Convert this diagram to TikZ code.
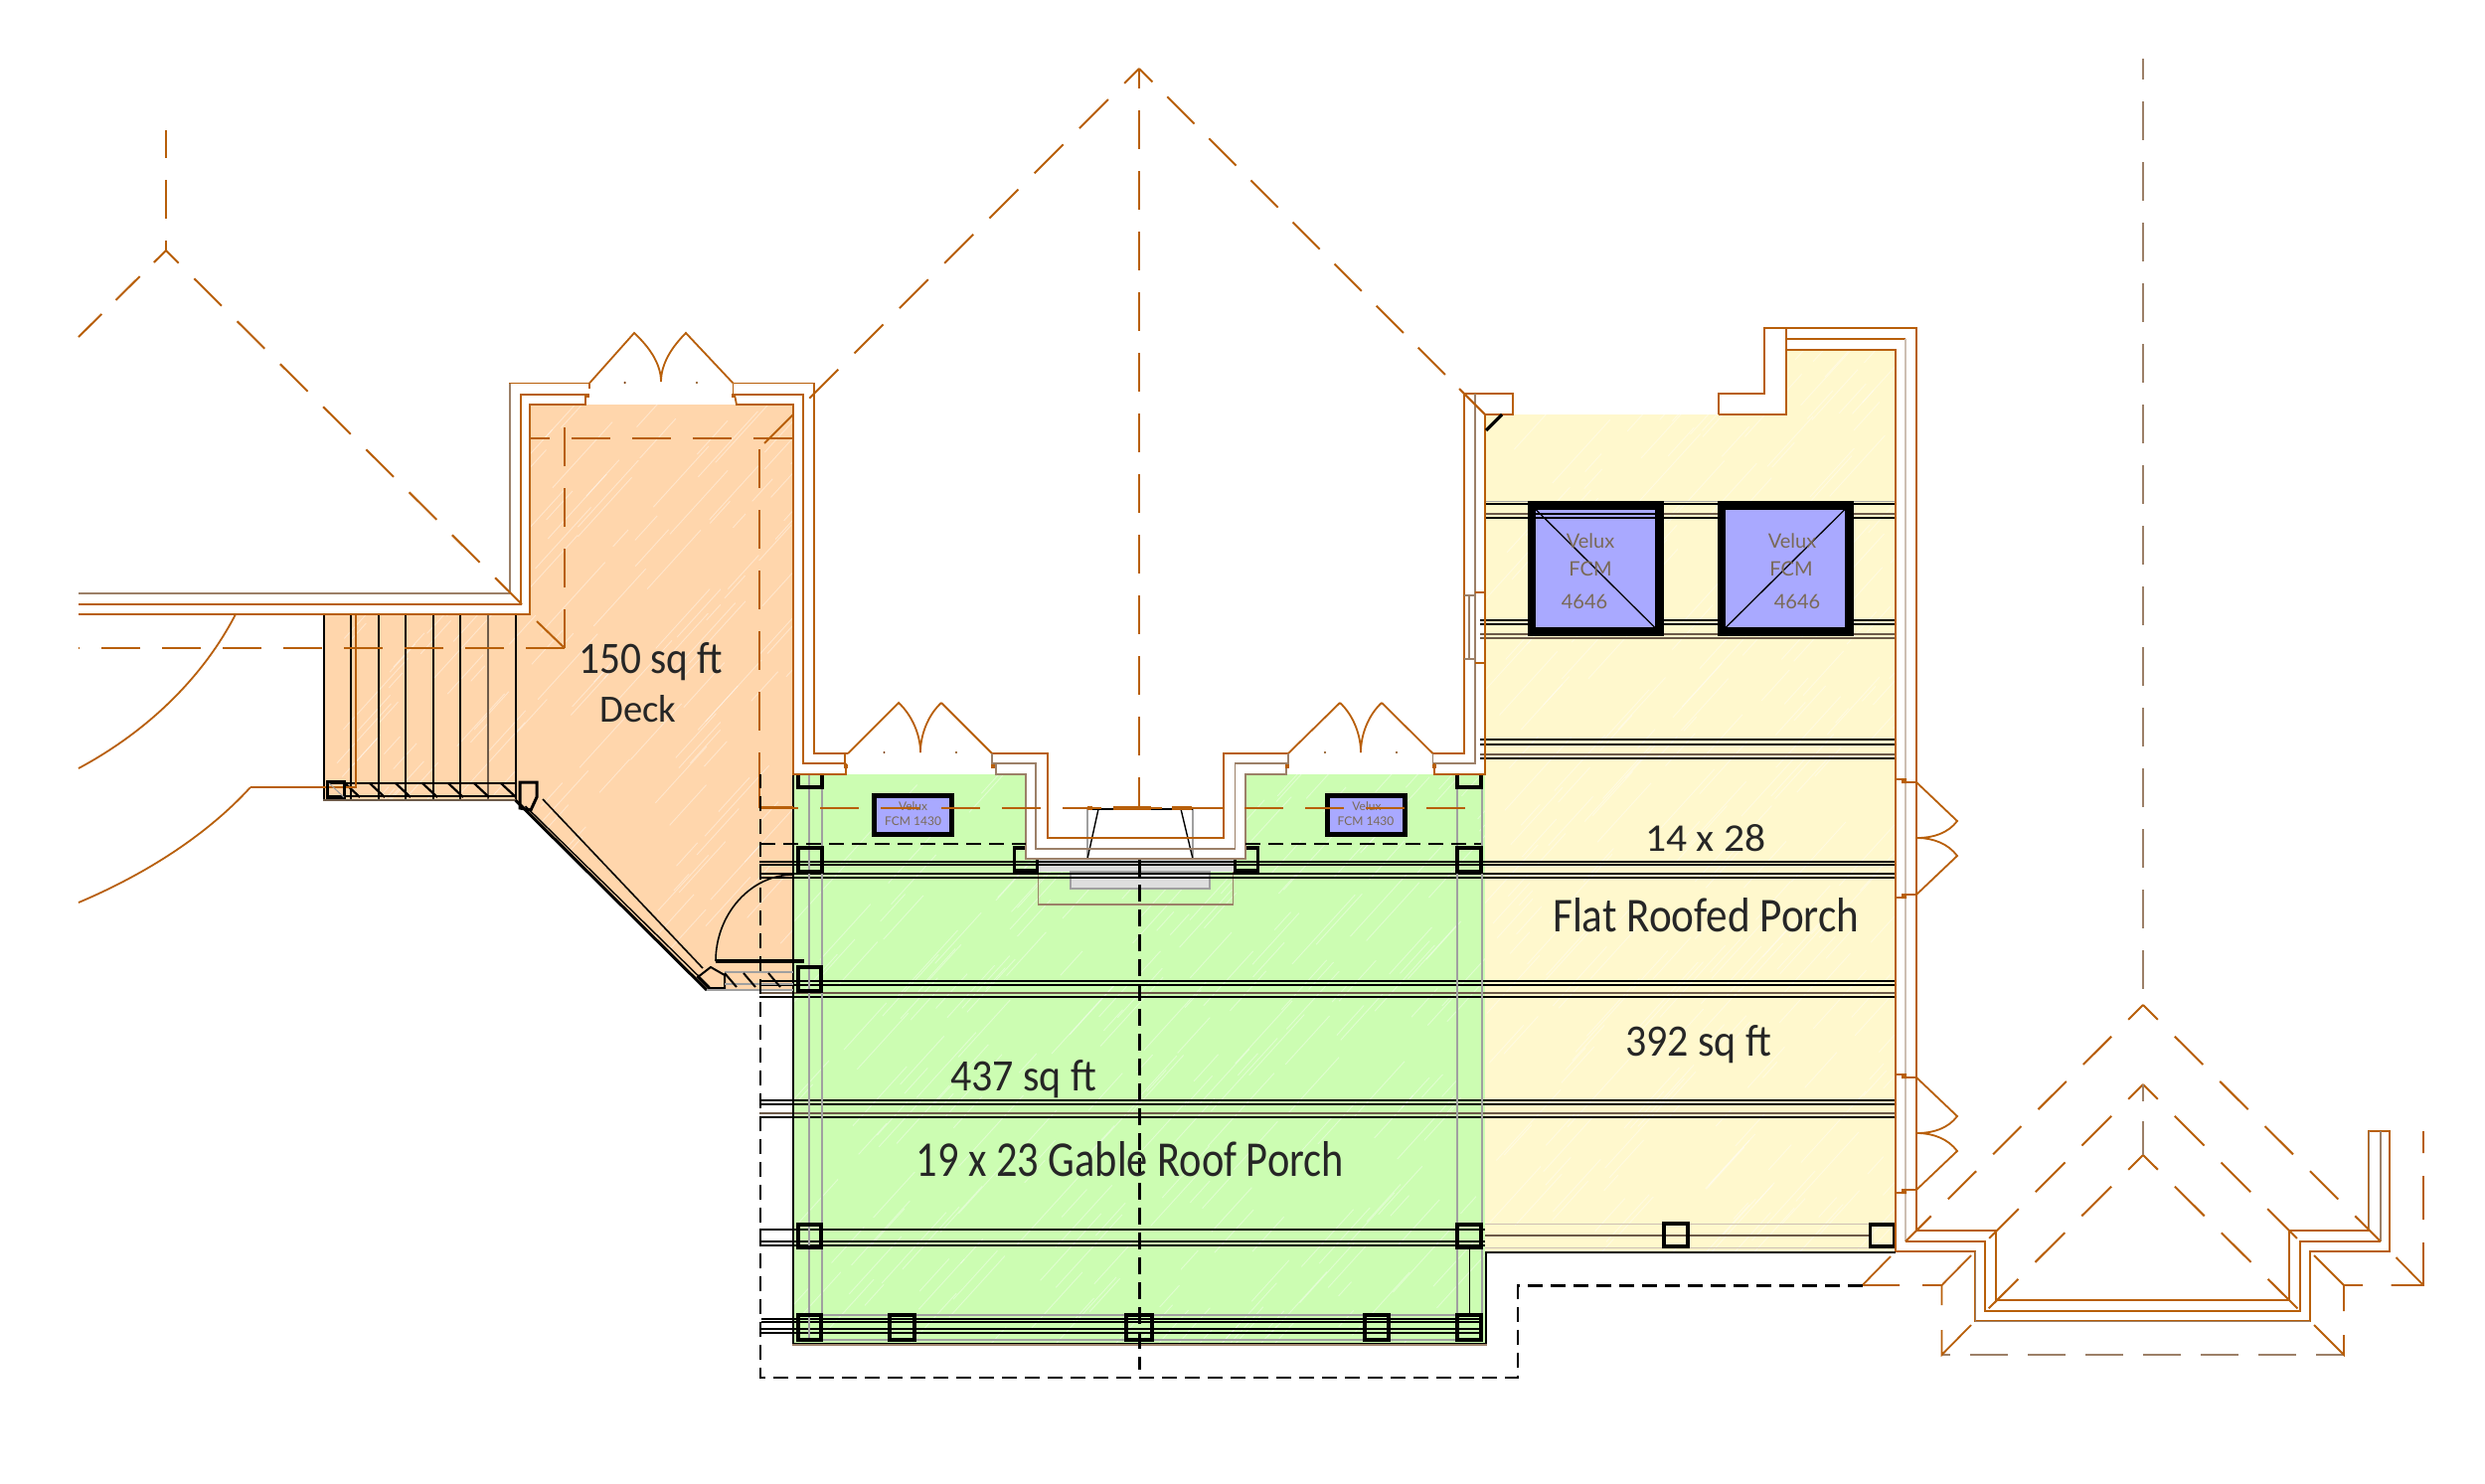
\documentclass[tikz,border=0pt]{standalone}
\usepackage{fontspec}
\setmainfont{Carlito}
\newfontfamily\velfont{Lato}
\definecolor{linec}{HTML}{B85F0A}
\definecolor{gbc}{HTML}{9C8068}
\definecolor{deckc}{HTML}{FFD6AC}
\definecolor{greenc}{HTML}{CCFDB2}
\definecolor{yellowc}{HTML}{FFF8CD}
\definecolor{bluec}{HTML}{A9A9FF}
\definecolor{stepc}{HTML}{DEDEDE}
\definecolor{greyl}{HTML}{A0A0A0}
\definecolor{velt}{HTML}{7A6A58}
\tikzset{
  ol/.style={draw=linec,line width=1.8pt},
  gl/.style={draw=gbc,line width=1.8pt},
  rd/.style={draw=linec,line width=2pt,dash pattern=on 39pt off 22pt},
  bd/.style={draw=black,line width=2.4pt,dash pattern=on 15pt off 8pt},
  beam/.style={draw=black,line width=1.6pt},
  beamb/.style={draw=gbc!70!black,line width=2.2pt},
  thin grey/.style={draw=greyl,line width=1.4pt},
  postb/.style={draw=black,line width=3.2pt},
  bigvel/.style={draw=black,fill=bluec,line width=8.5pt},
  smallvel/.style={draw=black,fill=bluec,line width=5pt},
  lab/.style={anchor=base west,inner sep=0pt,text=black!85},
  velbig/.style={inner sep=0pt,text=velt,font=\velfont\fontsize{20}{24}\selectfont},
  velsmall/.style={inner sep=0pt,text=velt,font=\velfont\fontsize{12}{14}\selectfont}
}
\newcommand{\streaks}[5]{\foreach \i in {1,...,#5}{\pgfmathsetmacro\sxa{#1+rnd*#3}\pgfmathsetmacro\sya{#2+rnd*#4}\pgfmathsetmacro\sla{12+rnd*55}\draw[white,opacity=.4,line width=.9pt] (\sxa,\sya) -- ++(\sla,-\sla*1.1);}}
\begin{document}
\begin{tikzpicture}[x=1pt,y=-1pt,line cap=butt]
\useasboundingbox (0,0) rectangle (2500,1492);
\fill[white] (0,0) rectangle (2500,1492);
\pgfmathsetseed{7}
% ---------- fills
\begin{scope}
\path[clip] (533,407)--(798,407)--(798,996)--(711,996)--(518.6,805)--(325,805)--(325,618)--(533,618)--cycle;
\fill[deckc] (300,380) rectangle (820,1000);
\streaks{320}{420}{500}{620}{190}
\end{scope}
\begin{scope}
\path[clip] (798,779)--(1032,779)--(1032,864)--(1253,864)--(1253,779)--(1494,779)--(1494,1352)--(798,1352)--cycle;
\fill[greenc] (790,770) rectangle (1500,1360);
\streaks{790}{790}{700}{600}{240}
\end{scope}
\begin{scope}
\path[clip] (1494,417)--(1797,417)--(1797,352)--(1907,352)--(1907,1259)--(1494,1259)--cycle;
\fill[yellowc] (1490,340) rectangle (1910,1262);
\streaks{1490}{360}{420}{920}{260}
\end{scope}
% ---------- steps of the hearth
\fill[stepc] (1044.6,865) rectangle (1241,877);
\draw[thin grey,fill=stepc] (1077,877) rectangle (1217,894);
\draw[gl,line width=1.4pt] (1044.6,877)--(1044.6,910)--(1240.5,910)--(1240.5,877);
% ---------- beams
\foreach \y in {867,870}{\draw[beam] (764,\y)--(1907,\y);}
\foreach \y in {879,883}{\draw[beam] (764,\y)--(1907,\y);}
\foreach \y in {987,991,1003}{\draw[beam] (764,\y)--(1907,\y);}
\draw[beamb] (764,999)--(1907,999);
\foreach \y in {1107,1111}{\draw[beam] (764,\y)--(1907,\y);}
\draw[beamb] (764,1120)--(1907,1120);
\draw[beam] (764,1124)--(1907,1124);
\foreach \y in {1237,1249,1253}{\draw[beam] (764,\y)--(1494,\y);}
\draw[beamb] (1494,1243)--(1881,1243);
\draw[draw=gbc!50,line width=1pt] (1494,1231)--(1881,1231) (1494,1255)--(1881,1255);
\foreach \y in {507}{\draw[beam] (1494,\y)--(1907,\y);}
\draw[beam] (1494,521)--(1907,521);
\draw[beamb] (1494,517)--(1907,517);
\foreach \y in {624,628,744,749,763}{\draw[beam] (1489,\y)--(1907,\y);}
\foreach \y in {638,642,759}{\draw[beamb] (1489,\y)--(1907,\y);}
\draw[draw=greyl,line width=1pt] (1494,504)--(1907,504);
\foreach \y in {1327,1330,1337,1341}{\draw[beam] (766,\y)--(1490,\y);}
\draw[draw=greyl,line width=2pt] (803,1348)--(1490,1348);
\draw[draw=greyl,line width=1.2pt] (826,1323)--(1466,1323);
% ---------- grey verticals
\foreach \x in {814,827,1466,1491}{\draw[thin grey] (\x,779)--(\x,1350);}
\draw[beam] (1478.5,1255)--(1478.5,1323);
% ---------- outline of the porch
\draw[draw=black,line width=2.4pt] (798,779)--(798,1352)--(1495,1352)--(1495,1260)--(1907,1260);
\draw[draw=gbc,line width=1.4pt] (797,1353)--(1496,1353);
% ---------- posts
\foreach \xa/\ya/\xb/\yb in {803/853/827/877,1466/853/1490/877,1020.6/853/1043.6/876,1242.5/853/1265.5/876,
 803/973/826/997,803/1232/826/1255,1466/1232/1490/1255,
 803/1323/826/1348,895/1323/920/1348,1133/1323/1159/1348,1373/1323/1397/1348,1466/1323/1490/1348,
 1674/1231/1698/1254,1881.5/1232/1906/1254}
{\draw[postb] (\xa,\ya) rectangle (\xb,\yb);}
\draw[postb] (803,779)--(803,792)--(827,792)--(827,779);
\draw[postb] (1466,779)--(1466,792)--(1490,792)--(1490,779);
% ---------- notch of the wall, white
\fill[white] (1032,779)--(1032,864)--(1253,864)--(1253,779)--cycle;
% ---------- hearth lines
\draw[thin grey] (1094,814)--(1094,864) (1200,814)--(1200,864);
\draw[draw=black,line width=1.6pt] (1094,814)--(1200,814);
\draw[draw=black,line width=1.4pt] (1105,814)--(1094,864) (1188,814)--(1200,864);
\draw[draw=linec,line width=3.2pt] (1120,813)--(1158,813) (1179,813)--(1199,813) (1094,813)--(1099,813);
% ---------- stairs
\foreach \x in {326,353,381,408,436,463,519}{\draw[draw=black,line width=2pt] (\x,618)--(\x,805);}
\draw[draw=gbc!70!black,line width=2pt] (491,618)--(491,805);
\draw[draw=gbc!70!black,line width=2.4pt] (325,805)--(519,805);
\draw[draw=black,line width=1.4pt] (346,788)--(519,788);
\draw[draw=black,line width=1.6pt] (346,801)--(519,801);
\foreach \x in {347,372,398,425,451,477,504}{\draw[draw=black,line width=2.2pt] (\x,788)--(\x+15,802);}
\draw[ol] (358,618)--(358,792)--(252,792);
\draw[ol] (252,792) .. controls (210,838) and (150,878) .. (79,908);
\draw[ol] (237,618) .. controls (205,680) and (150,735) .. (79,773);
\draw[postb] (329.5,787) rectangle (346.5,802);
\draw[draw=greyl,line width=1pt] (331,788)--(346,802);
% ---------- deck sloped rail
\draw[draw=black,line width=3pt] (518.6,805)--(711,996);
\draw[draw=black,line width=1.4pt] (528.6,811)--(714,993);
\draw[draw=black,line width=1.6pt] (546,804)--(707,974);
\draw[postb,line width=3pt] (523,813)--(523,787)--(540,787)--(540,802)--(534,815)--cycle;
\draw[draw=black,line width=2pt] (702,983)--(715,973)--(729,981)--(729,994)--(713,994)--cycle;
\draw[thin grey] (711,996)--(798,996) (729,978)--(798,978) (729,990)--(798,990);
\foreach \x in {729,748,773}{\draw[draw=black,line width=2pt] (\x,979)--(\x+12,993);}
\draw[draw=black,line width=3.4pt] (720,967)--(809,967);
\draw[draw=black,line width=1.6pt] (720,967) .. controls (720,920) and (755,880) .. (798,880);
% ---------- walls: deck
\draw[ol] (593,385.5)--(513,385.5)--(513,597)--(79,597);
\draw[gl,line width=1.2pt] (513,385.5)--(513,597)--(79,597);
\draw[ol] (593,385.5)--(593,391) (589,397)--(524,397)--(524,608)--(79,608);
\draw[ol] (589,397)--(589,407)--(533,407)--(533,618)--(79,618);
\draw[ol] (737.5,385.5)--(819,385.5)--(819,758)--(853,758);
\draw[ol] (737.5,385.5)--(737.5,397)--(808,397)--(808,768)--(850,768)--(850,758);
\draw[ol] (739,397)--(741,407)--(798,407)--(798,779)--(851,779)--(851,768);
\draw[ol] (533,407)--(533,618);
% door of the deck
\draw[ol] (593,385.5)--(638,335) .. controls (652,348) and (665,365) .. (665,384);
\draw[ol] (737.5,385.5)--(690,335) .. controls (677,348) and (665,365) .. (665,384);
% ---------- walls: centre
\draw[ol] (853,758)--(904,707) .. controls (918,720) and (926,740) .. (926,757);
\draw[ol] (947,707) .. controls (933,720) and (926,740) .. (926,757);
\draw[ol] (947,707)--(998,758)--(1054,758)--(1054,843)--(1231,843)--(1231,758)--(1296,758)--(1348,707);
\draw[ol] (1348,707) .. controls (1362,720) and (1369,740) .. (1369,757);
\draw[ol] (1390,707) .. controls (1376,720) and (1369,740) .. (1369,757);
\draw[ol] (1390,707)--(1441.5,758)--(1473,758)--(1473,396)--(1522,396)--(1522,417)--(1494,417);
\draw[gl] (998,758)--(998,768)--(1042,768)--(1042,854)--(1242.5,854)--(1242.5,768)--(1296,768)--(1296,758);
\draw[gl] (1002,768)--(1002,779)--(1032,779)--(1032,864)--(1253,864)--(1253,779)--(1294,779)--(1294,768);
\draw[gl] (1441.5,758)--(1441.5,768)--(1484,768)--(1484,396);
\draw[ol] (1443,768)--(1443,779)--(1494,779)--(1494,417);
\draw[ol] (1468,391)--(1494,417);
\draw[draw=black,line width=3.2pt] (1495,433)--(1511,417);
% jamb marks and door dots
\foreach \x/\y in {591/398,737.5/398,851/771,999/771,1295/771,1442.5/771}{\fill[linec] (\x-2,\y-2) rectangle (\x+2,\y+2);}
\foreach \x/\y in {628.6/385,701/385,889.5/757,962/757,1333/757,1405/757}{\fill[linec!70!black] (\x,\y) circle[radius=1.2pt];}
% window in the wall
\draw[gl,line width=1.4pt] (1473,599)--(1484,599) (1473,663)--(1484,663) (1478,599)--(1478,663);
\draw[ol,line width=1.4pt] (1484,596)--(1494,596) (1484,667)--(1494,667);
% ---------- walls: flat porch
\draw[ol] (1729,417)--(1729,396)--(1775,396)--(1775,330)--(1928,330)--(1928,1238)--(2008,1238)--(2008,1308)--(2303,1308)--(2303,1238)--(2383,1238)--(2383,1138)--(2404,1138)--(2404,1259)--(2324,1259)--(2324,1329)--(1987,1329)--(1987,1259)--(1907,1259);
\draw[ol] (1729,417)--(1797,417)--(1797,330);
\draw[ol] (1797,341)--(1917,341);
\draw[ol] (1797,352)--(1907,352)--(1907,1259);
\draw[draw=gbc!50,line width=1.6pt] (1917,341)--(1917,1249);
\draw[ol] (1917,1249)--(1997,1249)--(1997,1319)--(2314,1319)--(2314,1249)--(2395,1249);
\draw[gl] (2395,1249)--(2395,1138);
\draw[gl,line width=1pt] (1987,1259)--(1987,1329)--(2324,1329);
\draw[gl,line width=1pt] (2383,1238)--(2383,1138);
% doors flat porch
\foreach \d in {0,297}{
 \begin{scope}[yshift=-\d pt]
 \draw[ol] (1928,787)--(1969,826) .. controls (1960,838) and (1945,843) .. (1929,843) .. controls (1945,843) and (1960,849) .. (1969,861)--(1928,900);
 \draw[ol,line width=1.4pt] (1907,784)--(1915,784)--(1915,787)--(1928,787) (1907,903)--(1915,903)--(1915,900)--(1928,900);
 \fill[linec] (1913,783) rectangle (1918,788) (1913,899) rectangle (1918,904);
 \end{scope}}
% ---------- big skylights
\draw[bigvel] (1541,508.5) rectangle (1669.5,635.5);
\draw[beam,line width=1.4pt] (1545,517)--(1665,517);
\draw[beam,line width=1.4pt] (1545,521)--(1665,521);
\draw[draw=black,line width=1.3pt] (1545,512.5)--(1665,631.5);
\draw[bigvel] (1732,508.5) rectangle (1860.5,635.5);
\draw[draw=black,line width=1.3pt] (1736,631.5)--(1856,512.5);
\node[velbig] (v1a) at (1600,544) {Velux};
\node[velbig] (v1b) at (1600,572) {FCM};
\node[velbig] (v1c) at (1594,605) {4646};
\node[velbig] (v2a) at (1803,544) {Velux};
\node[velbig] (v2b) at (1802,572) {FCM};
\node[velbig] (v2c) at (1808,605) {4646};
% ---------- small skylights
\draw[smallvel] (879.2,800.5) rectangle (957.5,839.5);
\draw[smallvel] (1335.5,800.5) rectangle (1413.5,839.5);
\node[velsmall] (s1a) at (918.6,811) {Velux};
\node[velsmall] (s1b) at (918.6,826) {FCM 1430};
\node[velsmall] (s2a) at (1375,811) {Velux};
\node[velsmall] (s2b) at (1374,826) {FCM 1430};
% ---------- roof dashes
\draw[rd,line width=1.5pt] (764,813)--(1494,813);
\draw[ol] (764,772)--(764,812)--(798,812);
\draw[rd,line width=1.6pt,dash phase=19pt] (533,441)--(798,441);
\draw[rd,line width=1.6pt] (568,652)--(79,652);
\draw[rd] (568,652)--(568,407);
\draw[rd] (764,452)--(764,772);
\draw[draw=linec,line width=2pt,dash pattern=on 41pt off 23pt,dash phase=20pt] (1146,69)--(764,451);
\draw[draw=linec,line width=2pt,dash pattern=on 38.5pt off 21pt,dash phase=19.5pt] (1146,69)--(1494,417);
\draw[rd,dash phase=19pt] (1146,69)--(1146,813);
% left roof
\draw[rd,dash phase=11pt] (167,131)--(167,252);
\draw[rd,dash phase=21pt] (167,252)--(525,608);
\draw[ol,line width=2pt] (540,625)--(568,652);
\draw[draw=linec,line width=2pt,dash pattern=on 34pt off 20pt,dash phase=17pt] (167,252)--(79,339);
% right roof
\draw[draw=gbc,line width=2.4pt,dash pattern=on 39pt off 22pt,dash phase=18pt] (2156,59)--(2156,1011);
\draw[draw=linec,line width=2pt,dash pattern=on 40pt off 24pt,dash phase=19pt] (2156,1011)--(1917,1249);
\draw[draw=linec,line width=2pt,dash pattern=on 40pt off 24pt,dash phase=19pt] (2156,1011)--(2395,1249);
\draw[draw=linec,line width=2pt,dash pattern=on 42pt off 24pt,dash phase=21pt] (2156,1091)--(2000,1247);
\draw[draw=linec,line width=2pt,dash pattern=on 42pt off 24pt,dash phase=21pt] (2156,1091)--(2312,1247);
\draw[draw=linec,line width=2pt,dash pattern=on 42pt off 24pt,dash phase=21pt] (2156,1162)--(2000,1317);
\draw[draw=linec,line width=2pt,dash pattern=on 42pt off 24pt,dash phase=21pt] (2156,1162)--(2312,1317);
\draw[gl] (2156,1091)--(2156,1108) (2156,1128)--(2156,1162);
% eave
\draw[draw=gbc,line width=2.2pt,dash pattern=on 37.5pt off 20.5pt,dash phase=29.5pt] (1953.5,1363)--(2358,1363);
\draw[ol] (1873.6,1293)--(1911,1293) (1934,1293)--(1953.5,1293)--(1953.5,1313) (1953.5,1338)--(1953.5,1363)--(1983,1333);
\draw[ol] (1873.6,1293)--(1902,1264) (1953.5,1293)--(1983,1263);
\draw[ol] (2328,1263)--(2358,1293)--(2377,1293) (2405.5,1293)--(2438,1293)--(2438,1250) (2438,1227)--(2438,1183) (2438,1160)--(2438,1138);
\draw[ol] (2358,1293)--(2358,1319) (2358,1343)--(2358,1363)--(2328,1333);
\draw[ol] (2438,1293)--(2410.5,1265);
% ---------- black dashes
\draw[bd] (1873.6,1293.5)--(1527,1293.5)--(1527,1386)--(765,1386)--(765,779);
\draw[bd] (765,849)--(1032,849);
\draw[bd] (1253,849)--(1490,849);
\draw[bd,dash pattern=on 17pt off 8pt] (1146.6,865)--(1146.6,1378);
% ---------- labels
\node[lab] (deckarea) at (582,677) {\resizebox{145pt}{31pt}{150 sq ft}};
\node[lab] (deckname) at (603,726) {\resizebox{77pt}{27pt}{Deck}};
\node[lab] (flatsize) at (1655,856) {\resizebox{121pt}{27pt}{14 x 28}};
\node[lab] (flatname) at (1562,937) {\resizebox{308pt}{34pt}{Flat Roofed Porch}};
\node[lab] (flatarea) at (1635,1062) {\resizebox{147pt}{31pt}{392 sq ft}};
\node[lab] (gabarea) at (956,1097) {\resizebox{147pt}{31pt}{437 sq ft}};
\node[lab] (gabname) at (921.5,1183) {\resizebox{430pt}{35pt}{19 x 23 Gable Roof Porch}};
\end{tikzpicture}
\end{document}
